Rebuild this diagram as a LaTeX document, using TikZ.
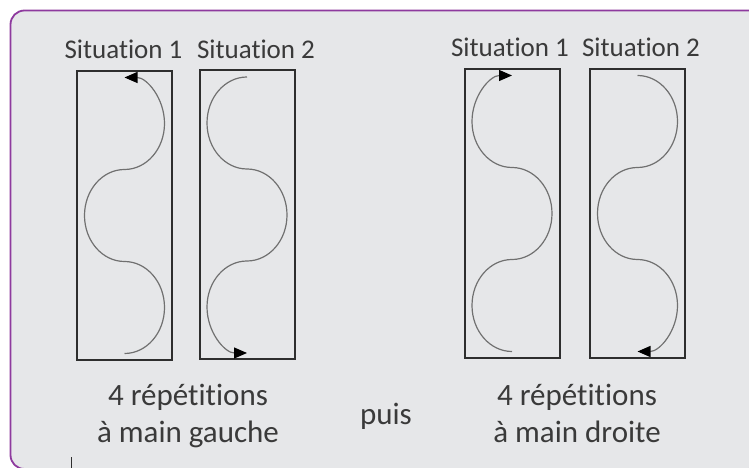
\documentclass[tikz,border=0pt]{standalone}
\usepackage{fontspec}
\setmainfont{Carlito}
\newfontfamily\lblfont[Ligatures=CommonOff]{Carlito}
\usetikzlibrary{arrows.meta,calc}
\definecolor{bgc}{HTML}{E6E7E9}
\definecolor{framec}{HTML}{8E3A9E}
\definecolor{boxc}{HTML}{2E2E2E}
\definecolor{curvec}{HTML}{707070}
\definecolor{txtc}{HTML}{3A3A3A}
\begin{document}
\begin{tikzpicture}[x=1pt,y=1pt,
 lane/.style={draw=boxc,line width=2pt,minimum width=95pt,minimum height=289pt,inner sep=0pt},
 wave/.style={draw=curvec,line width=1.2pt},
 arrowed/.style={wave,-{Triangle[length=13pt,width=11pt,color=black]}},
 lbl/.style={text=txtc,font=\lblfont\fontsize{27}{30}\selectfont,anchor=base,inner sep=0pt},
 captxt/.style={text=txtc,font=\lblfont\fontsize{31}{37}\selectfont,align=center,anchor=base,inner sep=0pt}]
\useasboundingbox (0,0) rectangle (749,468);
\begin{scope}
\clip (0,0) rectangle (749,468);
\fill[white] (0,0) rectangle (749,468);
\draw[framec,line width=1.8pt,fill=bgc,rounded corners=14pt] (10.5,-1) rectangle (762,457.5);
\end{scope}
% boxes
\node[lane] (b1) at (124.5,252.5) {};
\node[lane] (b2) at (247,253) {};
\node[lane] (b3) at (512,254.5) {};
\node[lane] (b4) at (637.5,254.5) {};
% labels
\node[lbl] (s1) at (123.5,409) {Situation 1};
\node[lbl] (s2) at (256,409) {Situation 2};
\node[lbl] (s3) at (510,411) {Situation 1};
\node[lbl] (s4) at (641,411) {Situation 2};
% curves
\draw[arrowed] ($(b1.center)+(0,-138)$)
  arc[start angle=-90,end angle=90,x radius=40,y radius=46]
  arc[start angle=-90,end angle=-270,x radius=40,y radius=46]
  arc[start angle=-90,end angle=90,x radius=40,y radius=46];
\draw[arrowed] ($(b2.center)+(0,138)$)
  arc[start angle=90,end angle=270,x radius=40,y radius=46]
  arc[start angle=90,end angle=-90,x radius=40,y radius=46]
  arc[start angle=90,end angle=270,x radius=40,y radius=46];
\draw[arrowed] ($(b3.center)+(0,-138)$)
  arc[start angle=-90,end angle=-270,x radius=40,y radius=46]
  arc[start angle=-90,end angle=90,x radius=40,y radius=46]
  arc[start angle=-90,end angle=-270,x radius=40,y radius=46];
\draw[arrowed] ($(b4.center)+(0,138)$)
  arc[start angle=90,end angle=-90,x radius=40,y radius=46]
  arc[start angle=90,end angle=270,x radius=40,y radius=46]
  arc[start angle=90,end angle=-90,x radius=40,y radius=46];
% captions
\node[captxt] (c1) at (188,25) {4 répétitions\\à main gauche};
\node[captxt] (c2) at (386,43) {puis};
\node[captxt] (c3) at (577,25) {4 répétitions\\à main droite};
\coordinate (t1) at (71,0);
\coordinate (t2) at (71,11);
\draw[boxc,line width=1pt] (t1) -- (t2);
\end{tikzpicture}
\end{document}
